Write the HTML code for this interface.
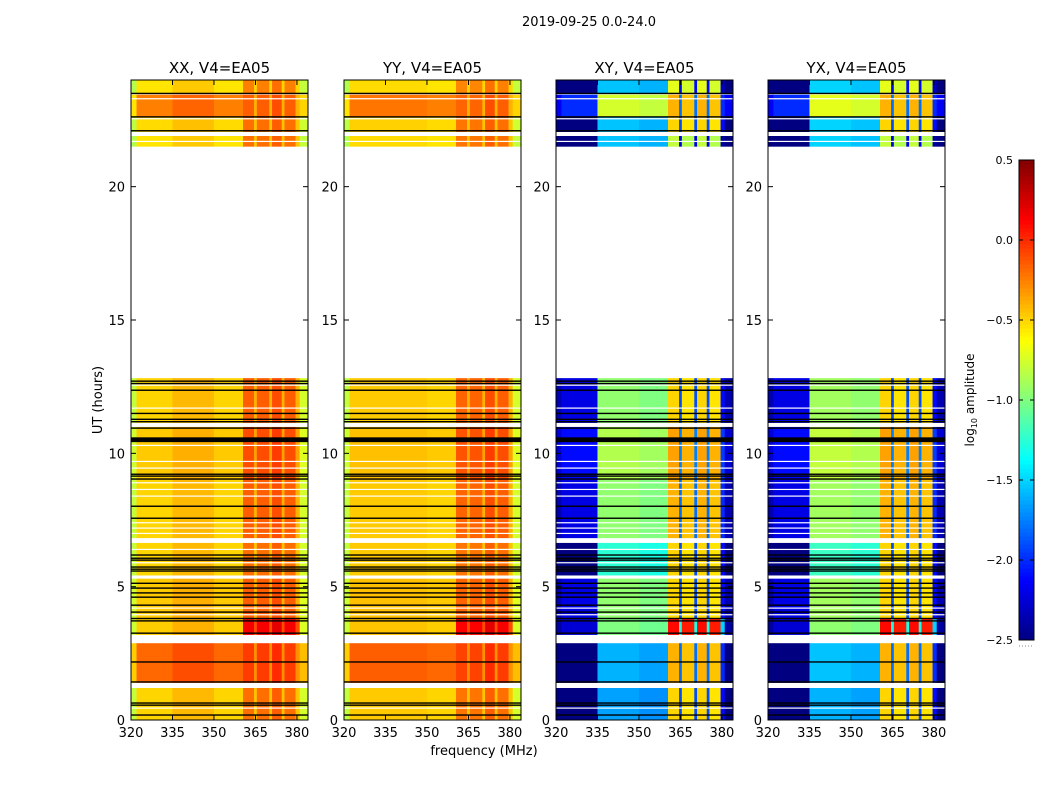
<!DOCTYPE html>
<html><head><meta charset="utf-8"><style>
body{margin:0;background:#fff;}
svg text{font-family:"DejaVu Sans","Liberation Sans",sans-serif;}
</style></head><body>
<svg id="fig" width="1050" height="800" xmlns="http://www.w3.org/2000/svg">
<rect width="1050" height="800" fill="#fff"/>
<text x="589" y="26" font-size="13" text-anchor="middle">2019-09-25 0.0-24.0</text>
<text x="484" y="755" font-size="13" text-anchor="middle">frequency (MHz)</text>
<text x="102" y="400" font-size="13" text-anchor="middle" transform="rotate(-90 102 400)">UT (hours)</text>
<g id="panels"></g>
<g id="cbar"></g>
</svg>
<script>
const panelNames=["XX, V4=EA05","YY, V4=EA05","XY, V4=EA05","YX, V4=EA05"];
const freqEdges=[320,322,335,350,360.5,364.5,365.5,370,371,374.5,375.5,379.5,381,384];
const profXX=[-0.8,-0.5,-0.42,-0.5,-0.2,-0.45,-0.2,-0.45,-0.15,-0.45,-0.2,-0.45,-0.75];
const profYY=[-0.8,-0.47,-0.47,-0.5,-0.22,-0.45,-0.22,-0.45,-0.15,-0.45,-0.2,-0.45,-0.75];
const profXY=[-2.35,-2.2,-0.95,-1.0,-0.5,-1.9,-0.55,-1.9,-0.5,-1.9,-0.55,-2.1,-2.35];
const profYX=[-2.35,-2.2,-0.9,-0.95,-0.5,-1.9,-0.55,-1.9,-0.5,-1.9,-0.55,-2.1,-2.35];
// [start h, end h] with offsets: parallel low/high freq, cross low/high freq
const segStart=[0,1.39,3.19,3.8,5.42,6.82,9.0,11.14,21.5,22.05,22.6,23.5];
const segEnd=[1.2,2.88,3.8,5.3,6.64,9.0,10.99,12.82,21.9,22.6,23.45,24];
const offParLow=[0,0.32,0.02,0.03,0,0,0.03,0,-0.05,-0.02,0.25,-0.05];
const offParHigh=[0,0.15,0.35,0.05,0,0.05,0.1,0.05,0,0,0.05,-0.05];
const offCrossLow=[-0.7,-0.65,-0.05,0,-0.3,0,0.1,0,-0.6,-0.6,0.2,-0.6];
const offCrossHigh=[0,0.1,0.6,0,0,0.1,0.15,0,-0.3,0,0.1,-0.2];
const whiteLines=[12.56,11.7,10.3,9.7,9.45,8.9,8.65,8.4,7.4,7.2,7.0,6.4,5.9,4.2,3.95,0.45,23.3,22.55,21.7];
const blackLines=[12.71,12.62,12.37,11.5,11.28,11.19,10.95,9.22,9.15,9.04,8.02,7.57,6.19,6.07,6.0,5.74,5.66,5.59,5.13,4.95,4.77,4.61,4.31,4.05,3.81,3.72,3.26,2.18,1.43,0.64,0.56,0.19,23.5,22.62,22.1];
const thickBlack=[[10.42,10.6]];
const xTicks=[320,335,350,365,380];
const yTicks=[0,5,10,15,20];
const cbTicks=[0.5,0.0,-0.5,-1.0,-1.5,-2.0,-2.5];
const cbLabels=["0.5","0.0","\u22120.5","\u22121.0","\u22121.5","\u22122.0","\u22122.5"];

const NS="http://www.w3.org/2000/svg";
const panelX=[131,344,556,768],PW=177,PT=80,PB=720;
const fmin=320,fmax=384,vmin=-2.5,vmax=0.5;
function jet(v){let t=(v-vmin)/(vmax-vmin);t=Math.max(0,Math.min(1,t));
 const c=x=>Math.round(255*Math.max(0,Math.min(1,1.5-Math.abs(x))));
 return `rgb(${c(4*t-3)},${c(4*t-2)},${c(4*t-1)})`;}
function el(tag,attrs,parent){const e=document.createElementNS(NS,tag);for(const k in attrs)e.setAttribute(k,attrs[k]);parent.appendChild(e);return e;}
const panels=document.getElementById('panels');
const profs=[profXX,profYY,profXY,profYX];
for(let p=0;p<4;p++){
 const x0=panelX[p];
 const xs=f=>x0+(f-fmin)/(fmax-fmin)*PW;
 const ys=h=>PB-(h/24)*(PB-PT);
 const g=el('g',{},panels);
 
 
 const cross=p>=2;
 for(let s=0;s<segStart.length;s++){
  for(let c=0;c<freqEdges.length-1;c++){
   const hi=freqEdges[c]>=360.5&&freqEdges[c]<381;
   const off=cross?(hi?offCrossHigh[s]:offCrossLow[s]):(hi?offParHigh[s]:offParLow[s]);
   const v=profs[p][c]+off;
   const r=el('rect',{x:xs(freqEdges[c]),y:ys(segEnd[s]),width:xs(freqEdges[c+1])-xs(freqEdges[c])+0.3,height:ys(segStart[s])-ys(segEnd[s]),fill:jet(v)},g);
   
   
  }
 }
 for(const h of whiteLines){const l=el('rect',{x:x0,y:ys(h)-0.5,width:PW,height:1.2,fill:'#fff'},g);
  }
 for(const h of blackLines){const l=el('rect',{x:x0,y:ys(h)-0.6,width:PW,height:1.4,fill:'#000'},g);
  }
 for(const [a,b] of thickBlack){const l=el('rect',{x:x0,y:ys(b),width:PW,height:ys(a)-ys(b),fill:'#000'},g);
  }
 const fr=el('rect',{x:x0,y:PT,width:PW,height:PB-PT,fill:'none',stroke:'#000','stroke-width':1},g);
 
 const t=el('text',{x:x0+PW/2,y:PT-7,'font-size':15,'text-anchor':'middle'},g);t.textContent=panelNames[p];
 
 for(const f of xTicks){const X=xs(f);
  el('line',{x1:X,x2:X,y1:PB,y2:PB-5,stroke:'#000'},g);el('line',{x1:X,x2:X,y1:PT,y2:PT+5,stroke:'#000'},g);
  const tl=el('text',{x:X,y:PB+17,'font-size':13,'text-anchor':'middle'},g);tl.textContent=f;
  }
 for(const h of yTicks){const Y=ys(h);
  el('line',{x1:x0,x2:x0+5,y1:Y,y2:Y,stroke:'#000'},g);el('line',{x1:x0+PW,x2:x0+PW-5,y1:Y,y2:Y,stroke:'#000'},g);
  const tl=el('text',{x:x0-6,y:Y+5,'font-size':13,'text-anchor':'end'},g);tl.textContent=h;
  }
}
// colorbar
const cb=document.getElementById('cbar');

const CX=1019,CW=15,CT=160,CB=640;
const cy=v=>CB-(v-vmin)/(vmax-vmin)*(CB-CT);
for(let i=0;i<120;i++){const v0=vmin+i*(vmax-vmin)/120,v1=vmin+(i+1)*(vmax-vmin)/120;
 el('rect',{x:CX,y:cy(v1),width:CW,height:cy(v0)-cy(v1)+0.5,fill:jet((v0+v1)/2)},cb);}
el('rect',{x:CX,y:CT,width:CW,height:CB-CT,fill:'none',stroke:'#000'},cb);
cbTicks.forEach((v,i)=>{const Y=cy(v);
 el('line',{x1:CX,x2:CX+4,y1:Y,y2:Y,stroke:'#000'},cb);el('line',{x1:CX+CW,x2:CX+CW-4,y1:Y,y2:Y,stroke:'#000'},cb);
 const tl=el('text',{x:CX-6,y:Y+4,'font-size':11,'text-anchor':'end'},cb);tl.textContent=cbLabels[i];
 });
el('line',{x1:CX,x2:CX+CW,y1:646,y2:646,stroke:'#888','stroke-dasharray':'1,2'},cb);
const cl=el('text',{x:974,y:400,'font-size':12,'text-anchor':'middle',transform:'rotate(-90 974 400)'},cb);
cl.innerHTML='log<tspan font-size="8" dy="3">10</tspan><tspan dy="-3"> amplitude</tspan>';

</script>
</body></html>
